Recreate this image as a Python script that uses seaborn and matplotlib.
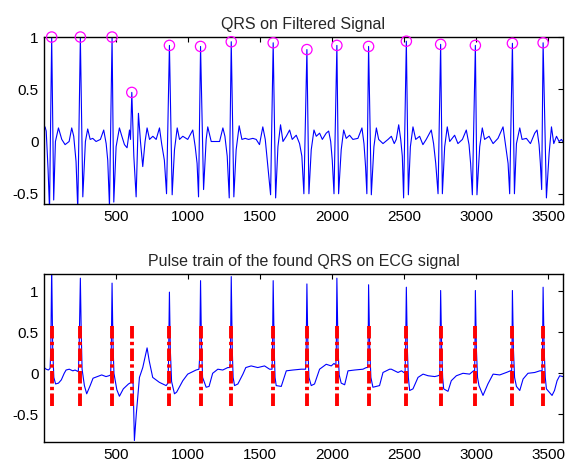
"""Два графика: QRS на отфильтрованном сигнале и импульсы найденных QRS на ЭКГ."""
import matplotlib
matplotlib.use("Agg")
import matplotlib.pyplot as plt
import seaborn as sns

sns.set_theme(style="white")
plt.rcParams["font.family"] = ["Liberation Sans", "DejaVu Sans"]
plt.rcParams["lines.scale_dashes"] = False

# положения найденных R-зубцов (отсчёты) и их амплитуды на фильтрованном сигнале
qrs_x = [53, 252, 472, 609, 870, 1086, 1299, 1590, 1824, 2032, 2252, 2514, 2752, 2993, 3250, 3463]
qrs_y = [1.0, 1.0, 1.0, 0.47, 0.92, 0.91, 0.955, 0.945, 0.88, 0.92, 0.91, 0.96, 0.93, 0.92, 0.94, 0.945]

# импульсы: от pulse_lo до pulse_hi
pulse_lo, pulse_hi = -0.4, 0.6

# отфильтрованный сигнал (вершины)
filt_x = [0, 7, 15, 28,
          38, 53, 67, 79, 100, 123, 146, 174, 192, 206, 222,
          234, 252, 269, 287, 303, 320, 338, 361, 391, 414, 431, 442,
          454, 472, 484, 500, 523, 540, 558, 576, 593, 600,
          609, 623, 639, 655, 669, 685, 701, 715, 732, 755, 778, 801, 817, 835,
          850, 870, 889, 905, 924, 940, 963, 997, 1032, 1049, 1062,
          1072, 1086, 1107, 1125, 1136, 1160, 1183, 1218, 1241, 1255, 1271,
          1285, 1299, 1317, 1333, 1354, 1373, 1396, 1419, 1449, 1472, 1495, 1518, 1535, 1553,
          1572, 1590, 1607, 1623, 1641, 1658, 1681, 1704, 1722, 1750, 1773, 1789,
          1803, 1824, 1838, 1854, 1873, 1889, 1912, 1931, 1958, 1975, 1989, 2000,
          2012, 2032, 2044, 2062, 2079, 2097, 2120, 2143, 2178, 2206, 2220, 2231,
          2240, 2252, 2271, 2289, 2306, 2322, 2352, 2387, 2410, 2430, 2444, 2461, 2475, 2486,
          2495, 2514, 2528, 2542, 2560, 2579, 2606, 2629, 2652, 2687, 2703, 2718,
          2734, 2752, 2764, 2780, 2798, 2815, 2849, 2872, 2903, 2930, 2949, 2960,
          2972, 2993, 3004, 3023, 3041, 3057, 3088, 3116, 3150, 3185, 3201, 3220,
          3231, 3250, 3264, 3278, 3301, 3317, 3347, 3375, 3405, 3421, 3435, 3444,
          3453, 3463, 3486, 3505, 3521, 3537, 3556, 3574, 3590, 3600]
filt_y = [0.12, 0.14, 0.10, -0.27,
          -0.65, 1.0, -0.56, 0.0, 0.13, 0.02, -0.03, 0.0, 0.13, 0.05, -0.19,
          -0.65, 1.0, -0.53, 0.0, 0.12, 0.02, 0.03, 0.0, 0.02, 0.11, -0.02, -0.18,
          -0.62, 1.0, -0.58, -0.05, 0.13, 0.05, -0.03, -0.06, 0.11, 0.02,
          0.47, -0.14, -0.53, 0.27, 0.0, -0.24, 0.0, 0.13, 0.02, 0.05, 0.02, 0.13, -0.03, -0.18,
          -0.5, 0.92, -0.51, -0.08, 0.13, 0.02, 0.05, 0.02, 0.11, -0.05, -0.21,
          -0.53, 0.91, -0.46, 0.02, 0.14, 0.0, 0.0, 0.0, 0.13, 0.05, -0.14,
          -0.54, 0.955, -0.53, -0.08, 0.15, 0.02, 0.03, 0.02, 0.03, 0.02, -0.03, 0.14, 0.02, -0.24,
          -0.51, 0.945, -0.54, -0.05, 0.16, 0.0, 0.05, 0.11, 0.02, 0.06, -0.02, -0.14,
          -0.5, 0.88, -0.5, -0.08, 0.11, 0.05, 0.08, 0.02, 0.08, 0.10, 0.0, -0.18,
          -0.5, 0.92, -0.5, -0.08, 0.11, 0.03, 0.06, 0.02, 0.03, 0.13, -0.02, -0.24,
          -0.5, 0.91, -0.51, -0.05, 0.13, 0.02, -0.02, 0.02, 0.05, -0.02, 0.02, 0.16, 0.02, -0.14,
          -0.54, 0.96, -0.51, -0.05, 0.14, 0.02, 0.05, -0.03, 0.02, 0.11, -0.02, -0.21,
          -0.5, 0.93, -0.5, -0.05, 0.14, 0.0, 0.06, -0.02, 0.02, 0.11, -0.03, -0.21,
          -0.51, 0.92, -0.51, -0.05, 0.13, 0.02, 0.05, -0.02, 0.03, 0.14, -0.02, -0.21,
          -0.5, 0.94, -0.5, -0.02, 0.13, 0.02, 0.03, -0.02, 0.08, 0.11, -0.03, -0.21,
          -0.46, 0.945, -0.54, -0.11, 0.14, -0.02, 0.05, 0.0, 0.02, 0.0]

# исходный ЭКГ сигнал (вершины)
ecg_x = [0, 15, 30, 42,
         47, 53, 60, 68, 80, 100, 120, 140, 153, 175, 200, 215, 238,
         243, 252, 258, 264, 280, 296, 320, 340, 370, 400, 430, 450, 462,
         466, 472, 478, 485, 505, 523, 550, 586, 605, 618, 627, 640, 662, 685, 715, 730, 754, 800, 847, 860,
         864, 870, 876, 885, 905, 920, 963, 997, 1055, 1075,
         1080, 1086, 1092, 1100, 1125, 1145, 1170, 1206, 1240, 1275, 1290,
         1294, 1299, 1306, 1312, 1322, 1345, 1380, 1400, 1437, 1483, 1530, 1565, 1582,
         1585, 1590, 1597, 1603, 1611, 1646, 1681, 1727, 1785, 1815,
         1819, 1824, 1831, 1838, 1854, 1877, 1912, 1958, 1993, 2012, 2025,
         2028, 2032, 2040, 2048, 2062, 2086, 2109, 2155, 2213, 2236, 2246,
         2249, 2252, 2260, 2268, 2282, 2328, 2352, 2398, 2410, 2456, 2480, 2505,
         2509, 2514, 2521, 2528, 2537, 2560, 2595, 2630, 2665, 2711, 2734, 2746,
         2748, 2752, 2759, 2766, 2773, 2803, 2826, 2861, 2907, 2953, 2980, 2988,
         2990, 2993, 3000, 3008, 3018, 3046, 3080, 3116, 3162, 3208, 3236, 3245,
         3247, 3250, 3257, 3265, 3278, 3301, 3324, 3358, 3405, 3440, 3456,
         3459, 3463, 3470, 3478, 3486, 3525, 3542, 3560, 3578, 3600]
ecg_y = [0.07, 0.05, 0.04, 0.06,
         0.3, 1.3, 0.3, -0.05, -0.13, -0.12, -0.08, 0.0, 0.04, 0.05, 0.03, 0.04, 0.02,
         0.25, 1.16, 0.5, 0.05, -0.15, -0.25, -0.15, -0.06, -0.04, -0.02, -0.04, -0.03, -0.02,
         0.2, 1.10, 0.4, 0.0, -0.2, -0.28, -0.19, -0.13, -0.11, -0.12, -0.82, -0.5, -0.05, 0.07, 0.31, 0.15, -0.05, -0.11, -0.15, -0.12,
         0.15, 0.99, 0.3, -0.1, -0.25, -0.23, -0.09, -0.01, 0.04, 0.05,
         0.2, 1.13, 0.4, -0.05, -0.17, -0.16, 0.0, 0.05, 0.04, 0.07, 0.07,
         0.3, 1.18, 0.3, -0.05, -0.15, -0.13, -0.01, 0.07, 0.09, 0.07, 0.09, 0.05, 0.05,
         0.25, 1.13, 0.3, -0.05, -0.15, -0.16, 0.03, 0.04, 0.05, 0.05,
         0.3, 1.09, 0.3, -0.05, -0.15, -0.13, 0.05, 0.11, 0.09, 0.12, 0.1,
         0.3, 1.16, 0.3, -0.02, -0.12, -0.14, 0.03, 0.04, 0.05, 0.07, 0.07,
         0.3, 1.08, 0.3, -0.05, -0.17, -0.15, 0.01, 0.05, 0.05, 0.01, 0.03, 0.0,
         0.3, 1.05, 0.3, -0.05, -0.21, -0.19, -0.05, -0.01, -0.03, -0.04, -0.03, -0.02,
         0.3, 1.01, 0.3, -0.05, -0.19, -0.22, -0.09, -0.03, 0.0, -0.01, 0.03, 0.03,
         0.3, 1.01, 0.3, -0.05, -0.15, -0.27, -0.13, -0.01, -0.02, 0.01, 0.03, 0.03,
         0.3, 1.01, 0.3, -0.05, -0.16, -0.21, -0.07, 0.0, 0.01, 0.03, 0.03,
         0.3, 1.05, 0.3, -0.05, -0.19, -0.27, -0.21, -0.09, -0.03, -0.04]

x_ticks = [500, 1000, 1500, 2000, 2500, 3000, 3500]
y_ticks = [-0.5, 0, 0.5, 1]


def _matlab_axes(ax, ylim):
    ax.set_xlim(0, 3600)
    ax.set_ylim(*ylim)
    ax.set_xticks(x_ticks)
    ax.set_yticks(y_ticks)
    ax.set_yticklabels([f"{v:g}" for v in y_ticks])
    ax.tick_params(direction="in", length=3.5, width=0.8, top=True, right=True,
                   labelsize=11, colors="black", pad=4)
    for s in ax.spines.values():
        s.set_color("black")
        s.set_linewidth(1.0)
    ax.set_xlabel("")
    ax.set_ylabel("")


fig = plt.figure(figsize=(5.72, 4.63), dpi=100)
ax1 = fig.add_axes([0.077, 0.559, 0.907, 0.361])
ax2 = fig.add_axes([0.077, 0.045, 0.907, 0.363])

sns.lineplot(x=filt_x, y=filt_y, ax=ax1, color="blue", lw=0.8, sort=False, estimator=None)
sns.scatterplot(x=qrs_x, y=qrs_y, ax=ax1, marker="o", s=55, linewidth=0.9, zorder=3,
                clip_on=False)
pts = ax1.collections[-1]
pts.set_facecolor("none")
pts.set_edgecolor("magenta")
_matlab_axes(ax1, (-0.6, 1.0))
ax1.set_title("QRS on Filtered Signal", fontsize=11.5, pad=6)

sns.lineplot(x=ecg_x, y=ecg_y, ax=ax2, color="blue", lw=0.8, sort=False, estimator=None)
ax2.vlines(qrs_x, pulse_lo, pulse_hi, colors="red", linewidth=2.8,
           linestyles=[(0, (9.0, 2.4, 2.4, 2.4))], zorder=3)
_matlab_axes(ax2, (-0.84, 1.21))
ax2.set_title("Pulse train of the found QRS on ECG signal", fontsize=11.5, pad=6)

fig.savefig("out.png", dpi=100, facecolor="white")
